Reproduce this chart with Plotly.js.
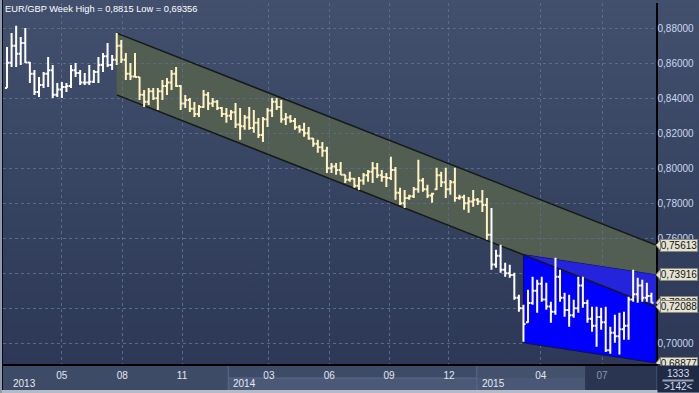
<!DOCTYPE html>
<html>
<head>
<meta charset="utf-8">
<script src="https://cdn.plot.ly/plotly-3.0.1.min.js"></script>
<style>
  html, body { margin: 0; padding: 0; background: #2d3956; }
  #chart { width: 699px; height: 393px; }
</style>
</head>
<body>
<div id="chart"></div>
<script>
// ---------------- DATA (weekly EUR/GBP bars) ----------------
const opens = [
0.8459,0.8603,0.8700,0.8655,0.8716,0.8605,0.8540,0.8436,0.8476,0.8540,
0.8560,0.8420,0.8450,0.8465,0.8470,0.8560,0.8545,0.8490,0.8490,0.8495,
0.8550,0.8590,0.8640,0.8590,0.8620,0.8700,0.8620,0.8540,0.8525,0.8522,
0.8420,0.8380,0.8440,0.8400,0.8440,0.8470,0.8490,0.8540,0.8470,0.8370,
0.8390,0.8340,0.8310,0.8350,0.8420,0.8370,0.8380,0.8345,0.8310,0.8300,
0.8320,0.8250,0.8240,0.8290,0.8230,0.8260,0.8190,0.8280,0.8330,0.8380,
0.8350,0.8280,0.8290,0.8270,0.8235,0.8220,0.8200,0.8170,0.8140,0.8120,
0.8100,0.8000,0.8010,0.7990,0.7963,0.7935,0.7940,0.7900,0.7930,0.7960,
0.7980,0.8000,0.7960,0.7950,0.7945,0.7990,0.7860,0.7800,0.7830,0.7840,
0.7880,0.7930,0.7880,0.7845,0.7880,0.7960,0.7920,0.7880,0.7920,0.7830,
0.7835,0.7800,0.7810,0.7820,0.7810,0.7790,0.7620,0.7450,0.7500,0.7420,
0.7400,0.7390,0.7260,0.7200,0.7120,0.7230,0.7300,0.7340,0.7250,0.7210,
0.7180,0.7380,0.7260,0.7190,0.7160,0.7200,0.7330,0.7230,0.7140,0.7100,
0.7150,0.7120,0.6960,0.7060,0.7040,0.7080,0.7100,0.7250,0.7280,0.7330,
0.7260,0.7270];
const highs = [
0.8693,0.8773,0.8815,0.8751,0.8802,0.8608,0.8562,0.8522,0.8551,0.8636,
0.8591,0.8488,0.8493,0.8488,0.8591,0.8602,0.8562,0.8545,0.8591,0.8562,
0.8636,0.8659,0.8716,0.8648,0.8773,0.8733,0.8659,0.8602,0.8659,0.8522,
0.8448,0.8459,0.8459,0.8459,0.8505,0.8516,0.8562,0.8579,0.8476,0.8419,
0.8402,0.8379,0.8362,0.8448,0.8436,0.8402,0.8391,0.8351,0.8345,0.8334,
0.8374,0.8345,0.8305,0.8351,0.8334,0.8288,0.8294,0.8345,0.8402,0.8402,
0.8391,0.8317,0.8305,0.8288,0.8248,0.8260,0.8237,0.8174,0.8163,0.8151,
0.8123,0.8031,0.8031,0.8037,0.7963,0.7980,0.7945,0.7951,0.7974,0.7991,
0.8037,0.8031,0.7991,0.7974,0.8066,0.8008,0.7889,0.7877,0.7849,0.7894,
0.8049,0.7945,0.7906,0.7860,0.8003,0.7980,0.8003,0.7934,0.8003,0.7849,
0.7849,0.7837,0.7877,0.7831,0.7877,0.7831,0.7774,0.7535,0.7563,0.7460,
0.7449,0.7403,0.7278,0.7221,0.7306,0.7380,0.7363,0.7380,0.7346,0.7238,
0.7489,0.7420,0.7289,0.7278,0.7249,0.7380,0.7380,0.7249,0.7209,0.7209,
0.7203,0.7209,0.7095,0.7163,0.7175,0.7181,0.7266,0.7420,0.7375,0.7363,
0.7346,0.7289];
const lows = [
0.8459,0.8579,0.8579,0.8591,0.8602,0.8488,0.8419,0.8408,0.8459,0.8465,
0.8402,0.8408,0.8402,0.8436,0.8459,0.8522,0.8476,0.8476,0.8476,0.8488,
0.8488,0.8551,0.8579,0.8562,0.8591,0.8602,0.8505,0.8505,0.8522,0.8391,
0.8351,0.8362,0.8391,0.8334,0.8391,0.8419,0.8448,0.8465,0.8334,0.8345,
0.8322,0.8294,0.8294,0.8345,0.8334,0.8351,0.8334,0.8294,0.8260,0.8277,
0.8231,0.8163,0.8220,0.8220,0.8203,0.8174,0.8151,0.8237,0.8294,0.8334,
0.8260,0.8248,0.8260,0.8220,0.8203,0.8180,0.8163,0.8123,0.8089,0.8066,
0.7974,0.7974,0.7963,0.7963,0.7917,0.7923,0.7889,0.7877,0.7906,0.7923,
0.7917,0.7945,0.7923,0.7894,0.7934,0.7820,0.7791,0.7774,0.7820,0.7831,
0.7860,0.7866,0.7831,0.7803,0.7877,0.7894,0.7831,0.7849,0.7809,0.7820,
0.7763,0.7746,0.7780,0.7791,0.7751,0.7592,0.7420,0.7432,0.7403,0.7380,
0.7375,0.7249,0.7181,0.7009,0.7118,0.7221,0.7175,0.7238,0.7192,0.7118,
0.7163,0.7238,0.7152,0.7095,0.7146,0.7175,0.7203,0.7118,0.7066,0.6981,
0.7078,0.6950,0.6940,0.7003,0.69356,0.7021,0.7021,0.7238,0.7232,0.7238,
0.7238,0.7232];
const closes = [
0.8603,0.8700,0.8655,0.8716,0.8605,0.8540,0.8436,0.8476,0.8540,0.8560,
0.8420,0.8450,0.8465,0.8470,0.8560,0.8545,0.8490,0.8490,0.8495,0.8550,
0.8590,0.8640,0.8590,0.8620,0.8700,0.8620,0.8540,0.8525,0.8522,0.8420,
0.8380,0.8440,0.8400,0.8440,0.8470,0.8490,0.8540,0.8470,0.8370,0.8390,
0.8340,0.8310,0.8350,0.8420,0.8370,0.8380,0.8345,0.8310,0.8300,0.8320,
0.8250,0.8240,0.8290,0.8230,0.8260,0.8190,0.8280,0.8330,0.8380,0.8350,
0.8280,0.8290,0.8270,0.8235,0.8220,0.8200,0.8170,0.8140,0.8120,0.8100,
0.8000,0.8010,0.7990,0.7963,0.7935,0.7940,0.7900,0.7930,0.7960,0.7980,
0.8000,0.7960,0.7950,0.7945,0.7990,0.7860,0.7800,0.7830,0.7840,0.7880,
0.7930,0.7880,0.7845,0.7855,0.7960,0.7920,0.7880,0.7920,0.7830,0.7835,
0.7800,0.7810,0.7820,0.7810,0.7790,0.7620,0.7450,0.7500,0.7420,0.7400,
0.7390,0.7260,0.7200,0.7110,0.7230,0.7300,0.7340,0.7250,0.7210,0.7180,
0.7380,0.7260,0.7190,0.7160,0.7200,0.7330,0.7230,0.7140,0.7100,0.7150,
0.7120,0.6960,0.7060,0.7040,0.7080,0.7100,0.7250,0.7280,0.7330,0.7260,
0.7270,0.7232];

// bars highlighted (cream) inside the drawn green channel: [first, lastExclusive]
const creamRange = [24, 106];

// trend channels (bar index, price)
const greenX = [24, 142];
const greenTop = [0.8773, 0.75613];
const greenBottom = [0.8420, 0.72088];
const blueX = [113, 142];
const blueTop = [0.7507, 0.73916];
const blueBottom = [0.7003, 0.68877];

// x axis labels (bar index of first week of month)
const monthPos = [12.0, 25.2, 38.3, 57.3, 70.5, 83.6, 96.7, 116.8, 130.2];
const monthLabels = ['05', '08', '11', '03', '06', '09', '12', '04', '07'];
const yearPos = [-0.9, 48.4, 102.8];
const yearLabels = ['2013', '2014', '2015'];
const priceTicks = [0.70, 0.72, 0.74, 0.76, 0.78, 0.80, 0.82, 0.84, 0.86, 0.88];
const hiddenTicks = [0.72, 0.74];   // covered by value boxes in the picture
const barCountText = ['1333', '>142<'];

// ---------------- BUILD ----------------
const W = 699, H = 393, ML = 3, MR = 43, MT = 3, MB = 29;
const PW = W - ML - MR, PH = H - MT - MB;
const pxX = px => (px - ML) / PW;          // pixel x -> paper x
const pxY = py => (H - MB - py) / PH;      // pixel y -> paper y
const fmt = v => v.toString().replace('.', ',');
const fmt5 = v => v.toFixed(5).replace('.', ',');
const FONT = 'Liberation Sans, Arial, sans-serif';

const idx = highs.map((_, i) => i);
function seg(a, b, color) {
  return {
    type: 'ohlc',
    x: idx.slice(a, b), open: opens.slice(a, b), high: highs.slice(a, b),
    low: lows.slice(a, b), close: closes.slice(a, b),
    increasing: { line: { color: color, width: 2 } },
    decreasing: { line: { color: color, width: 2 } },
    tickwidth: 0.45, hoverinfo: 'skip', showlegend: false
  };
}
const traces = [
  seg(0, creamRange[0], '#ffffff'),
  seg(creamRange[0], creamRange[1], '#fff3c4'),
  seg(creamRange[1], highs.length, '#ffffff')
];

const gbAt = x => greenBottom[0] + (greenBottom[1] - greenBottom[0]) * (x - greenX[0]) / (greenX[1] - greenX[0]);

const shapes = [];
shapes.push({ type: 'path', xref: 'x', yref: 'y', layer: 'below',
  path: `M ${greenX[0]},${greenTop[0]} L ${greenX[1]},${greenTop[1]} L ${greenX[1]},${greenBottom[1]} L ${greenX[0]},${greenBottom[0]} Z`,
  fillcolor: 'rgb(82,94,82)', line: { width: 0 } });
shapes.push({ type: 'line', xref: 'x', yref: 'y', layer: 'between', x0: greenX[0], y0: greenTop[0], x1: greenX[1], y1: greenTop[1],
  line: { color: '#161a16', width: 1.5 } });
shapes.push({ type: 'path', xref: 'x', yref: 'y', layer: 'between',
  path: `M ${blueX[0]},${blueTop[0]} L ${blueX[1]},${blueTop[1]} L ${blueX[1]},${blueBottom[1]} L ${blueX[0]},${blueBottom[0]} Z`,
  fillcolor: '#0000ff', line: { color: '#10104a', width: 1 } });
shapes.push({ type: 'path', xref: 'x', yref: 'y', layer: 'between',
  path: `M ${blueX[0]},${gbAt(blueX[0])} L ${blueX[1]},${blueTop[1]} L ${greenX[1]},${greenBottom[1]} Z`,
  fillcolor: '#2424dc', line: { width: 0 } });
shapes.push({ type: 'line', xref: 'x', yref: 'y', layer: 'between', x0: greenX[0], y0: greenBottom[0], x1: greenX[1], y1: greenBottom[1],
  line: { color: '#161a16', width: 1.5 } });

// bottom time-axis panel (below layer so tick labels stay on top)
const rect = (x0, y0, x1, y1, c, xref, layer) => ({ type: 'rect', xref: xref || 'paper', yref: 'paper', layer: layer || 'below',
  x0: x0, x1: x1, y0: pxY(y0), y1: pxY(y1), fillcolor: c, line: { width: 0 } });
shapes.push(rect(pxX(0), 364.5, pxX(657), 390, '#3e4b67'));
shapes.push(rect(yearPos[1], 378, yearPos[2], 390, '#4b5977', 'x'));
shapes.push(rect(yearPos[2], 364.5, 126.5, 390, '#44516d', 'x'));
shapes.push(rect(yearPos[2], 378, 126.5, 390, '#4a5775', 'x'));
shapes.push(rect(126.5, 364.5, 142, 390, '#2a3551', 'x'));
shapes.push({ type: 'line', xref: 'x', yref: 'paper', layer: 'below', x0: yearPos[1], x1: yearPos[2], y0: pxY(378), y1: pxY(378), line: { color: '#5c6a89', width: 1 } });
[yearPos[1], yearPos[2]].forEach(p => shapes.push({ type: 'line', xref: 'x', yref: 'paper', layer: 'below',
  x0: p, x1: p, y0: pxY(364.5), y1: pxY(390), line: { color: '#5c6a89', width: 1 } }));
shapes.push(rect(pxX(0), 390, pxX(699), 393, '#b3bbc9', 'paper', 'above'));
shapes.push(rect(pxX(0), 0, pxX(2), 393, '#8f9aae', 'paper', 'above'));
shapes.push({ type: 'line', xref: 'paper', yref: 'paper', layer: 'above', x0: pxX(2.5), x1: pxX(2.5), y0: pxY(0), y1: pxY(390),
  line: { color: '#0a0a0a', width: 1 } });

// chart caption (top-left, inside the plot)
const annotations = [];
annotations.push({ xref: 'paper', yref: 'paper', x: pxX(3), y: pxY(2), xanchor: 'left', yanchor: 'top',
  text: `EUR/GBP Week High = ${fmt(Math.max(...highs))} Low = ${fmt(Math.min(...lows))}`, showarrow: false,
  font: { family: FONT, size: 9.3, color: '#ffffff' } });

// right value labels (last close + channel ends)
const boxes = [closes[closes.length - 1], greenTop[1], blueTop[1], greenBottom[1], blueBottom[1]];
const pxToPrice = 0.02 / 35;
boxes.forEach(v => {
  shapes.push({ type: 'path', xref: 'paper', yref: 'y', layer: 'above',
    path: `M ${pxX(656)},${v} L ${pxX(661)},${v + 6 * pxToPrice} L ${pxX(661)},${v - 6 * pxToPrice} Z`,
    fillcolor: '#e4e3d0', line: { color: '#8a8a7c', width: 1 } });
  annotations.push({ xref: 'paper', yref: 'y', x: pxX(698), y: v, xanchor: 'right', yanchor: 'middle',
    text: fmt5(v), showarrow: false, bgcolor: '#e4e3d0', bordercolor: '#8a8a7c', borderwidth: 1, borderpad: 0,
    width: 36, height: 11, font: { family: FONT, size: 10, color: '#141414' } });
});
// bottom-right counter box (drawn after labels so it covers them)
annotations.push({ xref: 'paper', yref: 'paper', x: pxX(657), y: pxY(364.5), xanchor: 'left', yanchor: 'top',
  text: ' ', showarrow: false, bgcolor: '#1f2a45', borderpad: 0, width: 42, height: 25.5, font: { size: 10 } });
annotations.push({ xref: 'paper', yref: 'paper', x: pxX(678), y: pxY(373), xanchor: 'center', yanchor: 'middle',
  text: barCountText[0], showarrow: false, font: { family: FONT, size: 10, color: '#d5dcea' } });
annotations.push({ xref: 'paper', yref: 'paper', x: pxX(678), y: pxY(380), xanchor: 'center', yanchor: 'middle',
  text: ' ', showarrow: false, bgcolor: '#9aa3b5', borderpad: 0, width: 30, height: 1, font: { size: 1 } });
annotations.push({ xref: 'paper', yref: 'paper', x: pxX(678), y: pxY(386.5), xanchor: 'center', yanchor: 'middle',
  text: barCountText[1].replace('<', '&lt;').replace('>', '&gt;'), showarrow: false, font: { family: FONT, size: 10, color: '#d5dcea' } });
// year labels
yearLabels.forEach((t, i) => annotations.push({ xref: 'x', yref: 'paper', x: Math.max(yearPos[i], 0), y: pxY(384),
  xanchor: 'left', yanchor: 'middle', xshift: i === 0 ? 4 : 3, text: t, showarrow: false,
  font: { family: FONT, size: 10, color: '#e4e9f2' } }));

const svg = '<svg xmlns="http://www.w3.org/2000/svg" width="10" height="100" preserveAspectRatio="none">' +
  '<defs><linearGradient id="g" x1="0" y1="0" x2="0" y2="1"><stop offset="0" stop-color="#42506e"/>' +
  '<stop offset="1" stop-color="#2c3855"/></linearGradient></defs><rect width="10" height="100" fill="url(#g)"/></svg>';

const ticktext = monthLabels.map((m, i) => i === monthLabels.length - 1 ? `<span style="color:#8d97ab">${m}</span>` : m);
const yTickText = priceTicks.map(v => hiddenTicks.includes(v) ? '' : fmt5(v));

const layout = {
  width: W, height: H,
  margin: { l: ML, r: MR, t: MT, b: MB, pad: 0 },
  paper_bgcolor: '#2c3855', plot_bgcolor: 'rgba(0,0,0,0)',
  separators: ',.',
  showlegend: false,
  xaxis: { range: [-0.88, 142.0], tickvals: monthPos, ticktext: ticktext, ticks: '',
    showgrid: true, gridcolor: '#5a6a8b', griddash: '3px,3px', gridwidth: 1,
    showline: true, linecolor: '#000000', linewidth: 1.5, zeroline: false,
    tickfont: { family: FONT, size: 10, color: '#e0e7f3' }, ticklabelstandoff: 1,
    rangeslider: { visible: false }, fixedrange: true },
  yaxis: { side: 'right', range: [0.6882, 0.8945], tickvals: priceTicks, ticktext: yTickText, ticks: '',
    showgrid: true, gridcolor: '#5a6a8b', griddash: '3px,3px', gridwidth: 1,
    showline: true, linecolor: '#000000', linewidth: 1.5, zeroline: false,
    tickfont: { family: FONT, size: 10, color: '#cad6ee' }, ticklabelstandoff: -2, fixedrange: true },
  images: [{ source: 'data:image/svg+xml;charset=utf-8,' + encodeURIComponent(svg), xref: 'paper', yref: 'paper',
    x: pxX(0), y: pxY(0), sizex: pxX(699) - pxX(0), sizey: pxY(0) - pxY(364.5), xanchor: 'left', yanchor: 'top',
    sizing: 'stretch', layer: 'below' }],
  shapes: shapes,
  annotations: annotations
};

Plotly.newPlot('chart', traces, layout, { staticPlot: true, displayModeBar: false });
</script>
</body>
</html>
